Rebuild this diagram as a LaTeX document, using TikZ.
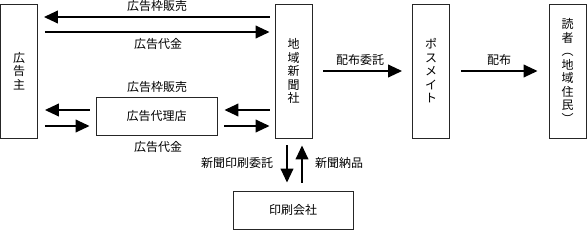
\documentclass[tikz,border=0pt]{standalone}
\usepackage{fontspec}
\setmainfont{Noto Sans CJK JP}
\usepackage{tikz}
\usetikzlibrary{positioning,arrows.meta,calc}

\begin{document}
\begin{tikzpicture}[x=1pt,y=-1pt,
  every node/.style={font=\fontsize{12}{13.5}\selectfont},
  vbox/.style={draw=black!85,line width=0.8pt,minimum width=37pt,minimum height=134pt,align=center,inner sep=0pt},
  hbox/.style={draw=black!85,line width=0.8pt,minimum width=121pt,minimum height=38pt,inner sep=0pt},
  arr/.style={-{Triangle[length=14pt,width=12.5pt]},line width=2.2pt},
  lab/.style={inner sep=1pt}
]
\useasboundingbox (0,0) rectangle (587,231);

\node[vbox] (adv) at (19,71) {広\\告\\主};
\node[hbox] (agent) at (156.5,116) {広告代理店};
\node[vbox] (paper) at (293.5,71) {地\\域\\新\\聞\\社};
\node[vbox] (posu) at (431,71) {ポ\\ス\\メ\\イ\\ト};
\node[vbox] (reader) at (567.5,71) {読\\者\\︵\\地\\域\\住\\民\\︶};
\node[hbox,minimum width=120pt] (print) at (293,210) {印刷会社};

\draw[arr] ([xshift=-5pt,yshift=54pt]paper.west) -- ([xshift=6pt,yshift=54pt]adv.east);
\draw[arr] ([xshift=7pt,yshift=39pt]adv.east) -- ([xshift=-5pt,yshift=39pt]paper.west);
\node[lab] (sell1) at (157,6) {広告枠販売};
\node[lab] (pay1) at (158,44) {広告代金};

\draw[arr] ([xshift=-6pt,yshift=6pt]agent.west) -- ([xshift=7pt,yshift=-39pt]adv.east);
\draw[arr] ([xshift=7pt,yshift=-55pt]adv.east) -- ([xshift=-6pt,yshift=-10pt]agent.west);
\draw[arr] ([xshift=-5pt,yshift=-39pt]paper.west) -- ([xshift=7pt,yshift=6pt]agent.east);
\draw[arr] ([xshift=7pt,yshift=-10pt]agent.east) -- ([xshift=-5pt,yshift=-55pt]paper.west);
\node[lab] (sell2) at (157,87) {広告枠販売};
\node[lab] (pay2) at (158,147) {広告代金};

\draw[arr] ([xshift=-6.5pt,yshift=-7pt]paper.south) -- ([xshift=-6pt,yshift=8pt]print.north);
\draw[arr] ([xshift=9pt,yshift=8pt]print.north) -- ([xshift=8.5pt,yshift=-7pt]paper.south);
\node[lab] (order) at (237,163) {新聞印刷委託};
\node[lab] (deliv) at (339,163) {新聞納品};

\draw[arr] ([xshift=11pt]paper.east) -- ([xshift=-10pt]posu.west);
\node[lab] (dist1) at (360,60) {配布委託};
\draw[arr] ([xshift=11pt]posu.east) -- ([xshift=-11pt]reader.west);
\node[lab] (dist2) at (499,60) {配布};
\end{tikzpicture}
\end{document}
